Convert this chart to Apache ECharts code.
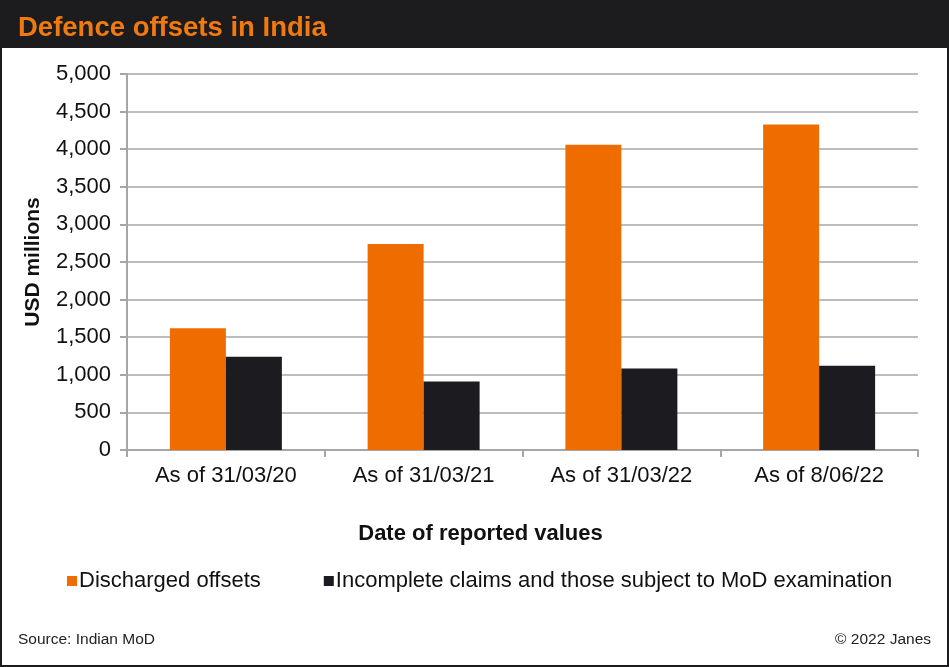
<!DOCTYPE html>
<html>
<head>
<meta charset="utf-8">
<script src="https://cdn.jsdelivr.net/npm/echarts@6/dist/echarts.min.js"></script>
<style>
  html, body { margin: 0; padding: 0; background: #fff; }
  #main { width: 949px; height: 667px; }
</style>
</head>
<body>
<div id="main"></div>
<script>
var categories = ['As of 31/03/20', 'As of 31/03/21', 'As of 31/03/22', 'As of 8/06/22'];
var discharged = [1620, 2740, 4060, 4330];
var incomplete = [1240, 910, 1085, 1120];
var seriesNames = ['Discharged offsets', 'Incomplete claims and those subject to MoD examination'];

var font = 'Arial, "Liberation Sans", sans-serif';
var chart = echarts.init(document.getElementById('main'));

chart.setOption({
    animation: false,
    textStyle: { fontFamily: font },
    graphic: [
        { type: 'rect', shape: { x: 0, y: 0, width: 949, height: 48 }, style: { fill: '#1c1b1d' } },
        { type: 'rect', shape: { x: 1, y: 1, width: 947, height: 665 }, style: { fill: 'none', stroke: '#1c1b1d', lineWidth: 2 } },
        { type: 'text', left: 18, top: 14, style: { text: 'Defence offsets in India', fill: '#f07a10', font: 'bold 27.5px ' + font } },
        { type: 'text', left: 18, top: 632, style: { text: 'Source: Indian MoD', fill: '#222', font: '15.5px ' + font } },
        { type: 'text', right: 18, top: 632, style: { text: '© 2022 Janes', fill: '#222', font: '15.5px ' + font } }
    ],
    legend: {
        data: seriesNames,
        left: 62,
        top: 565,
        itemWidth: 10,
        itemHeight: 10,
        itemGap: 63,
        icon: 'rect',
        textStyle: { fontSize: 22, color: '#111', fontFamily: font, padding: [0, 0, 0, -3] }
    },
    grid: { left: 127, right: 31, top: 74, bottom: 217 },
    xAxis: {
        type: 'category',
        data: categories,
        name: 'Date of reported values',
        nameLocation: 'middle',
        nameGap: 73,
        nameTextStyle: { fontSize: 22, fontWeight: 'bold', color: '#111', padding: [0, 84, 0, 0] },
        axisLine: { lineStyle: { color: '#a6a6a6', width: 2 } },
        axisTick: { show: true, length: 7, lineStyle: { color: '#a6a6a6', width: 2 } },
        axisLabel: { fontSize: 22, color: '#111', margin: 15 }
    },
    yAxis: {
        type: 'value',
        min: 0,
        max: 5000,
        interval: 500,
        name: 'USD millions',
        nameLocation: 'middle',
        nameGap: 83,
        nameTextStyle: { fontSize: 21, fontWeight: 'bold', color: '#111' },
        axisLine: { show: true, lineStyle: { color: '#a6a6a6', width: 2 } },
        axisTick: { show: true, length: 7, lineStyle: { color: '#a6a6a6', width: 2 } },
        splitLine: { lineStyle: { color: '#bdbdbd', width: 2 } },
        axisLabel: {
            fontSize: 22, color: '#111', margin: 16,
            formatter: function (v) { return v.toLocaleString('en-US'); }
        }
    },
    series: [
        {
            name: seriesNames[0], type: 'bar', data: discharged,
            barWidth: 56, barGap: '0%',
            itemStyle: { color: '#ef6c00' }
        },
        {
            name: seriesNames[1], type: 'bar', data: incomplete,
            barWidth: 56,
            itemStyle: { color: '#1c1b1f' }
        }
    ]
});
</script>
</body>
</html>
